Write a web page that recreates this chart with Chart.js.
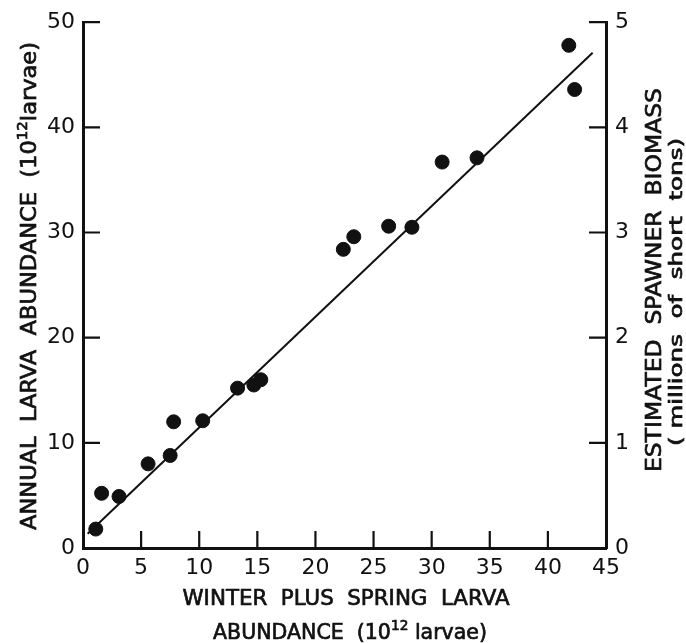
<!DOCTYPE html>
<html>
<head>
<meta charset="utf-8">
<script src="https://cdn.jsdelivr.net/npm/chart.js@4.4.1/dist/chart.umd.min.js"></script>
<style>
  html, body { margin: 0; padding: 0; background: #fff; }
  #wrap { width: 686px; height: 643px; }
</style>
</head>
<body>
<div id="wrap"><canvas id="myChart" width="686" height="643"></canvas></div>
<script>
// winter plus spring larva abundance (10^12 larvae)
const winterSpring = [1.1, 1.6, 3.1, 5.6, 7.5, 7.8, 10.3, 13.3, 14.7, 15.3, 22.4, 23.3, 26.3, 28.3, 30.9, 33.9, 41.8, 42.3];
// annual larva abundance (10^12 larvae)
const annual = [1.8, 5.2, 4.9, 8.0, 8.8, 12.0, 12.1, 15.2, 15.5, 16.0, 28.4, 29.6, 30.6, 30.5, 36.7, 37.1, 47.8, 43.6];
// fitted line end points
const fitX = [0.4, 43.85];
const fitY = [1.36, 47.1];

const xTicks = [0, 5, 10, 15, 20, 25, 30, 35, 40, 45];
const yTicks = [0, 10, 20, 30, 40, 50];
const y2Ticks = [0, 1, 2, 3, 4, 5];

const FONT = 'DejaVu Sans';
const ink = '#111';

const pts = winterSpring.map((v, i) => ({x: v, y: annual[i]}));
const fit = fitX.map((v, i) => ({x: v, y: fitY[i]}));

// draws text with superscript pieces, centred on 0,0, squeezed to width w
function drawParts(ctx, parts, size, w) {
    let total = 0;
    const fnt = p => (p.sup ? Math.round(size * 0.65) : size) + 'px "' + FONT + '"';
    parts.forEach(p => {
        ctx.font = fnt(p);
        p.w = ctx.measureText(p.t).width;
        total += p.w;
    });
    ctx.scale(w / total, 1);
    let x = -total / 2;
    ctx.lineWidth = 0.7;
    ctx.strokeStyle = ink;
    parts.forEach(p => {
        ctx.font = fnt(p);
        const yy = p.sup ? -size * 0.38 : 0;
        ctx.fillText(p.t, x, yy);
        ctx.strokeText(p.t, x, yy);
        x += p.w;
    });
}

const inwardTicks = {
    id: 'inwardTicks',
    afterDraw(chart) {
        const ctx = chart.ctx;
        const xs = chart.scales.x, ys = chart.scales.y, y2 = chart.scales.y2;
        const a = chart.chartArea;
        const len = 17;
        ctx.save();
        ctx.strokeStyle = ink;
        ctx.lineWidth = 2.2;
        ctx.beginPath();
        xTicks.slice(1, -1).forEach(v => {
            const px = xs.getPixelForValue(v);
            ctx.moveTo(px, a.bottom);
            ctx.lineTo(px, a.bottom - len);
        });
        yTicks.slice(1).forEach(v => {
            const py = ys.getPixelForValue(v);
            ctx.moveTo(a.left, py);
            ctx.lineTo(a.left + len, py);
        });
        y2Ticks.slice(1).forEach(v => {
            const py = y2.getPixelForValue(v);
            ctx.moveTo(a.right, py);
            ctx.lineTo(a.right - len, py);
        });
        ctx.stroke();

        // axis titles
        ctx.fillStyle = ink;
        ctx.textBaseline = 'middle';
        ctx.textAlign = 'left';

        ctx.save();
        ctx.translate(31, 286);
        ctx.rotate(-Math.PI / 2);
        drawParts(ctx, [{t: 'ANNUAL  LARVA  ABUNDANCE  (10'}, {t: '12', sup: true}, {t: 'larvae)'}], 21, 488);
        ctx.restore();

        ctx.save();
        ctx.translate(656, 280);
        ctx.rotate(-Math.PI / 2);
        drawParts(ctx, [{t: 'ESTIMATED  SPAWNER  BIOMASS'}], 21, 384);
        ctx.restore();

        ctx.save();
        ctx.translate(677, 292);
        ctx.rotate(-Math.PI / 2);
        drawParts(ctx, [{t: '( millions  of  short  tons)'}], 18, 308);
        ctx.restore();

        ctx.save();
        ctx.translate(346, 600);
        drawParts(ctx, [{t: 'WINTER  PLUS  SPRING  LARVA'}], 21, 327);
        ctx.restore();

        ctx.save();
        ctx.translate(350, 634);
        drawParts(ctx, [{t: 'ABUNDANCE  (10'}, {t: '12', sup: true}, {t: ' larvae)'}], 21, 274);
        ctx.restore();

        ctx.restore();
    }
};

const ctx = document.getElementById('myChart').getContext('2d');

const myChart = new Chart(ctx, {
    type: 'scatter',
    data: {
        datasets: [{
            data: pts,
            backgroundColor: ink,
            borderColor: ink,
            pointRadius: 7,
            pointHoverRadius: 7
        }, {
            type: 'line',
            data: fit,
            borderColor: ink,
            borderWidth: 2,
            pointRadius: 0,
            fill: false
        }]
    },
    options: {
        responsive: false,
        animation: false,
        events: [],
        layout: { padding: { top: 20, left: 0, right: 0, bottom: 0 } },
        plugins: { legend: { display: false }, tooltip: { enabled: false } },
        scales: {
            x: {
                type: 'linear',
                min: 0, max: 45,
                afterBuildTicks: s => { s.ticks = xTicks.map(v => ({value: v})); },
                afterFit: s => { s.height = 95; },
                grid: { display: false, drawTicks: false },
                border: { display: true, color: ink, width: 3 },
                ticks: { color: ink, padding: 7, font: { family: FONT, size: 22 }, maxRotation: 0 }
            },
            y: {
                type: 'linear',
                position: 'left',
                min: 0, max: 50,
                afterBuildTicks: s => { s.ticks = yTicks.map(v => ({value: v})); },
                afterFit: s => { s.width = 83; },
                grid: { display: false, drawTicks: false },
                border: { display: true, color: ink, width: 3 },
                ticks: { color: ink, padding: 8, font: { family: FONT, size: 22 } }
            },
            y2: {
                type: 'linear',
                position: 'right',
                min: 0, max: 5,
                afterBuildTicks: s => { s.ticks = y2Ticks.map(v => ({value: v})); },
                afterFit: s => { s.width = 80; },
                grid: { display: false, drawTicks: false },
                border: { display: true, color: ink, width: 3 },
                ticks: { color: ink, padding: 9, font: { family: FONT, size: 22 } }
            }
        }
    },
    plugins: [inwardTicks]
});
</script>
</body>
</html>
